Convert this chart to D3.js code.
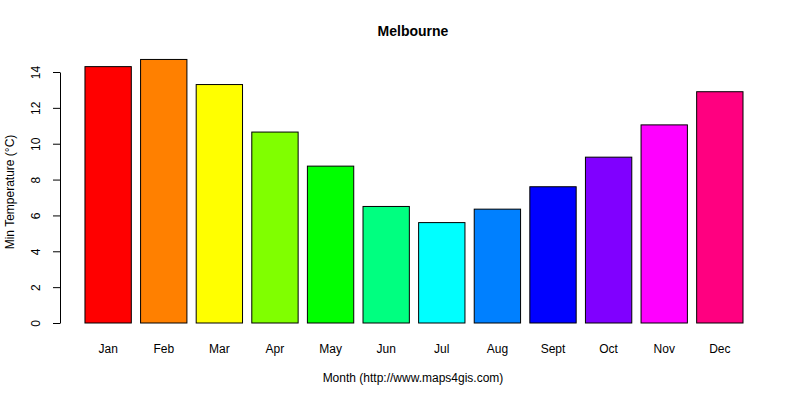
<!DOCTYPE html>
<html>
<head>
<meta charset="utf-8">
<script src="https://cdn.jsdelivr.net/npm/d3@7"></script>
<style>
  body { margin: 0; background: #fff; }
  text { font-family: "Liberation Sans", Arial, sans-serif; font-size: 12px; }
</style>
</head>
<body>
<div class="chart"></div>
<script>
// Melbourne average minimum temperature by month
const months = ["Jan", "Feb", "Mar", "Apr", "May", "Jun", "Jul", "Aug", "Sept", "Oct", "Nov", "Dec"];
const minTemps = [14.3, 14.7, 13.3, 10.65, 8.75, 6.5, 5.6, 6.35, 7.6, 9.25, 11.05, 12.9];
const barColors = ["#FF0000", "#FF8000", "#FFFF00", "#80FF00", "#00FF00", "#00FF80",
  "#00FFFF", "#0080FF", "#0000FF", "#8000FF", "#FF00FF", "#FF0080"];
const yTicks = [0, 2, 4, 6, 8, 10, 12, 14];

const width = 800, height = 400;

const svg = d3.select(".chart").append("svg")
  .attr("width", width)
  .attr("height", height);

// bar units like R barplot: width 1, space 0.2
const x = d3.scaleLinear().domain([0, 14.4]).range([75.7, 743]);
const y = d3.scaleLinear().domain([0, 14]).range([323, 72]);

const data = months.map((m, i) => ({ month: m, value: minTemps[i], color: barColors[i] }));

svg.selectAll("rect")
  .data(data)
  .enter()
  .append("rect")
  .attr("x", (d, i) => x(0.2 + i * 1.2))
  .attr("y", d => y(d.value))
  .attr("width", x(1) - x(0))
  .attr("height", d => y(0) - y(d.value))
  .attr("fill", d => d.color)
  .attr("stroke", "#000")
  .attr("stroke-width", 1);

svg.selectAll(".mlabel")
  .data(data)
  .enter()
  .append("text")
  .attr("class", "mlabel")
  .attr("x", (d, i) => x(0.7 + i * 1.2))
  .attr("y", 353)
  .attr("text-anchor", "middle")
  .text(d => d.month);

// y axis
const yAxis = svg.append("g")
  .attr("transform", "translate(60,0)")
  .call(d3.axisLeft(y).tickValues(yTicks).tickSize(7).tickSizeOuter(0));
yAxis.select(".domain").attr("stroke", "#000");
yAxis.selectAll("text")
  .attr("font-size", 11)
  .attr("font-family", "Liberation Sans, Arial, sans-serif")
  .attr("fill", "#000")
  .attr("x", 0)
  .attr("y", 0)
  .attr("dy", 0)
  .attr("transform", "translate(-20,0) rotate(-90)")
  .attr("text-anchor", "middle");

svg.append("text")
  .attr("x", 413).attr("y", 36)
  .attr("text-anchor", "middle")
  .attr("font-weight", "bold")
  .style("font-size", "14px")
  .text("Melbourne");

svg.append("text")
  .attr("x", 413).attr("y", 382)
  .attr("text-anchor", "middle")
  .text("Month (http://www.maps4gis.com)");

svg.append("text")
  .attr("transform", "translate(14,192) rotate(-90)")
  .attr("text-anchor", "middle")
  .text("Min Temperature (°C)");
</script>
</body>
</html>
